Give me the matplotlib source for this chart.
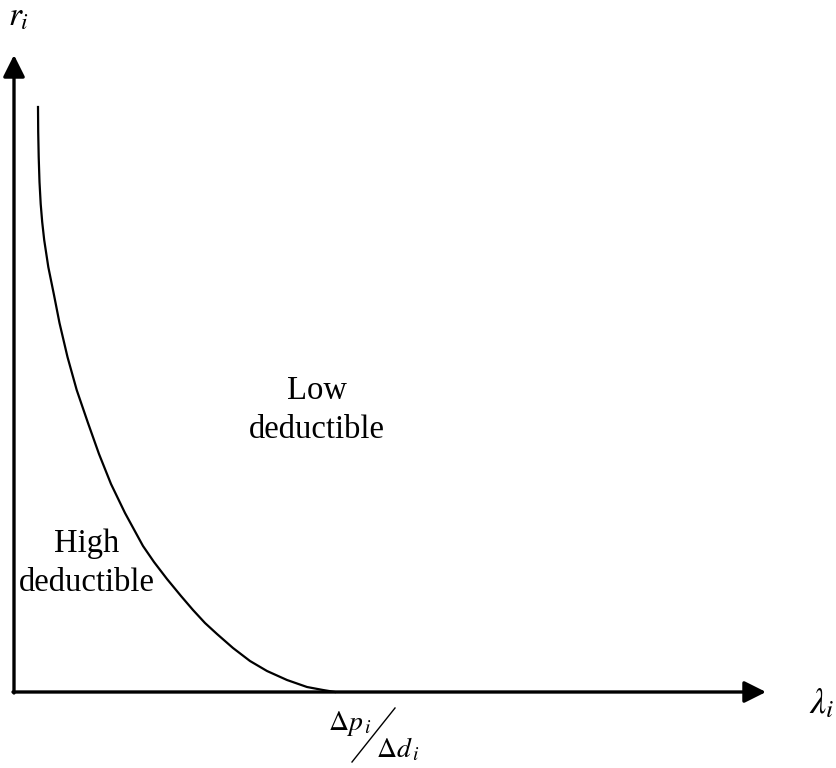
import matplotlib.pyplot as plt

plt.rcParams['mathtext.fontset'] = 'stix'
plt.rcParams['font.family'] = ['Liberation Serif', 'DejaVu Serif']

# curve (lambda_i, r_i), origin where the axes meet
lam = [24, 24.2, 24.7, 25.5, 26.7, 28.2, 30.2, 34.3, 40, 45.5, 53.5, 62.7, 74, 85, 97, 111,
       129, 140, 153, 167, 179, 191, 203, 219, 236, 253, 273, 293, 309, 321]
r = [585, 560, 535, 510, 488, 470, 452, 425, 397, 369, 335, 302, 269, 238, 208, 179,
     146, 130, 113, 96, 82, 69, 58, 44, 31, 21, 12, 5, 2, 0]

x_label = r'$\lambda_i$'
y_label = r'$r_i$'
region_low = "Low\ndeductible"
region_high = "High\ndeductible"

fig = plt.figure(figsize=(8.36, 7.68), dpi=100)
ax = fig.add_axes([0, 0, 1, 1])
ax.set_xlim(-14, 822)
ax.set_ylim(-76, 692)
ax.axis('off')

# axes with arrow heads
arrow = dict(arrowstyle='-|>,head_length=0.6,head_width=0.3', lw=2.4, color='black',
             mutation_scale=22, shrinkA=0, shrinkB=0)
ax.annotate('', xy=(0, 637), xytext=(0, -1), arrowprops=arrow)
ax.annotate('', xy=(752, 0), xytext=(-1, 0), arrowprops=arrow)

ax.plot(lam, r, color='black', lw=1.6, solid_joinstyle='round')

ax.text(303, 282, region_low, ha='center', va='center', fontsize=23.5, linespacing=1.37)
ax.text(73, 129, region_high, ha='center', va='center', fontsize=23.5, linespacing=1.37)

ax.text(-6, 667, y_label, ha='left', va='baseline', fontsize=24)
ax.text(795, -21, x_label, ha='left', va='baseline', fontsize=26)

# threshold label  Δp_i / Δd_i
ax.text(314, -38, r'$\Delta p_{\,i}$', ha='left', va='baseline', fontsize=20)
ax.text(362, -65, r'$\Delta d_{\,i}$', ha='left', va='baseline', fontsize=20)
ax.plot([338, 381], [-70, -16], color='black', lw=1.0)

plt.savefig("out.png", dpi=100)
